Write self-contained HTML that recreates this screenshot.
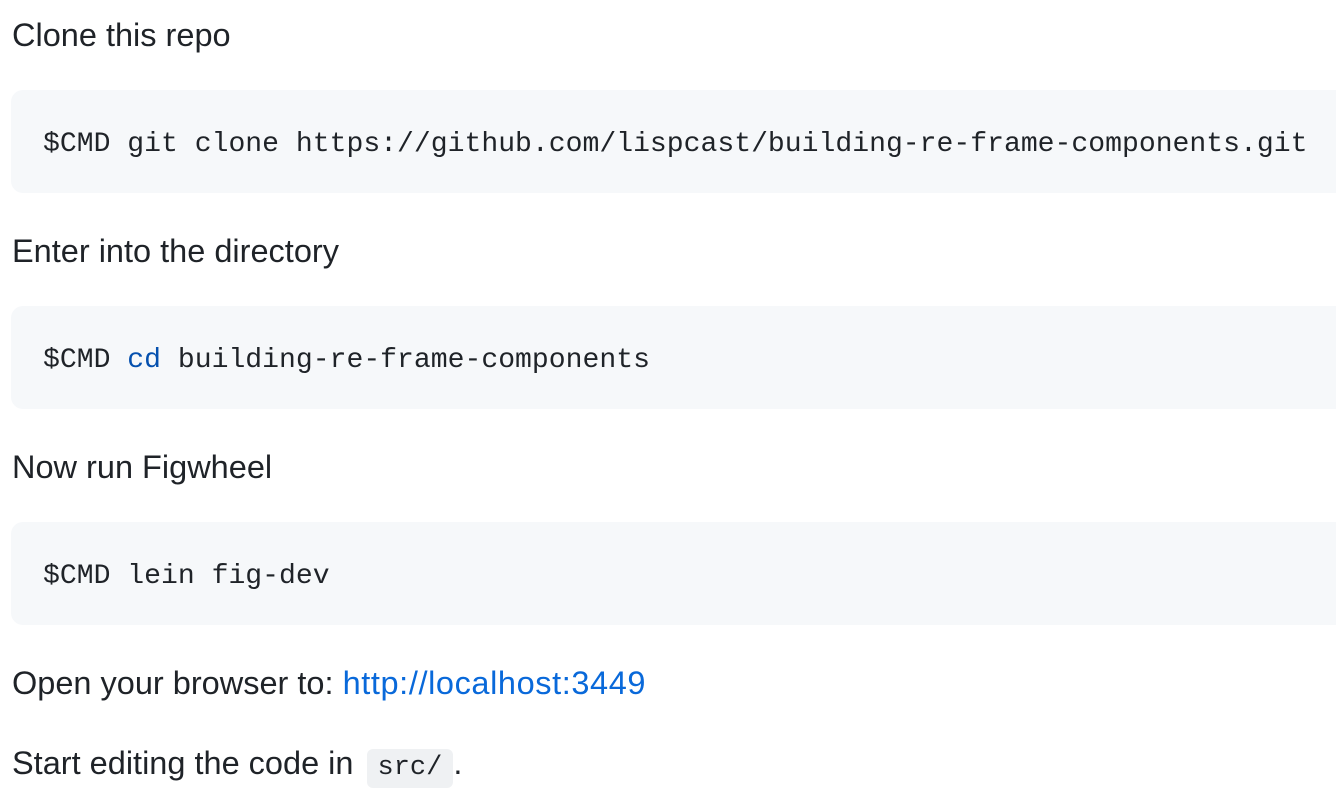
<!DOCTYPE html>
<html><head><meta charset="utf-8"><style>
body{margin:0;width:1336px;height:800px;background:#fff;overflow:hidden;position:relative;font-family:"Liberation Sans",Arial,sans-serif;color:#1f2328}
.t{position:absolute;left:12px;font-size:32.5px;line-height:40px;white-space:nowrap}
.c{position:absolute;left:11px;width:1340px;height:103px;background:#f6f8fa;border-radius:12px}
.c span.m{position:absolute;left:32px;top:35px;font-family:"Liberation Mono",monospace;font-size:28.1px;line-height:40px;white-space:pre;color:#1f2328}
a{color:#0969da;text-decoration:none;letter-spacing:0.6px}
.ic{font-family:"Liberation Mono",monospace;font-size:27px;background:#eff1f3;border-radius:6px;padding:4px 11px 5px;margin-left:4px}
</style></head><body>
<div class="t" style="top:15px">Clone this repo</div>
<div class="c" style="top:90px"><span class="m">$CMD git clone https://github.com/lispcast/building-re-frame-components.git</span></div>
<div class="t" style="top:231px">Enter into the directory</div>
<div class="c" style="top:306px"><span class="m">$CMD <span style="color:#0550ae">cd</span> building-re-frame-components</span></div>
<div class="t" style="top:447px">Now run Figwheel</div>
<div class="c" style="top:522px"><span class="m">$CMD lein fig-dev</span></div>
<div class="t" style="top:663px">Open your browser to: <a>http://localhost:3449</a></div>
<div class="t" style="top:743px">Start editing the code in <span class="ic">src/</span>.</div>
</body></html>
